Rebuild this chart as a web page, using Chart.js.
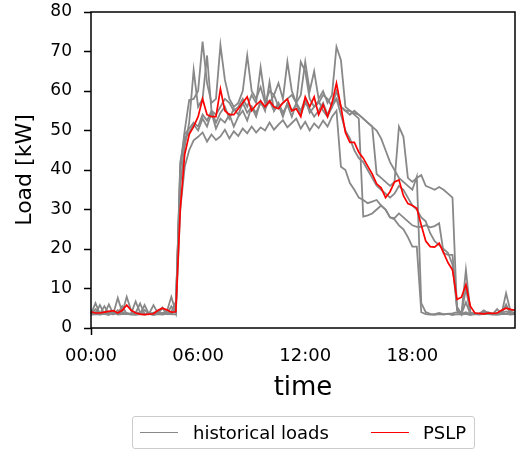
<!DOCTYPE html>
<html>
<head>
<meta charset="utf-8">
<script src="https://cdn.jsdelivr.net/npm/chart.js@4/dist/chart.umd.min.js"></script>
<style>
  body { margin: 0; background: #fff; }
  #wrap { position: relative; width: 516px; height: 450px; }
  #legend {
    position: absolute; left: 132px; top: 416px; width: 341px; height: 31px;
    border: 1.5px solid #cccccc; border-radius: 3px;
    font: 18px "DejaVu Sans"; color: #000;
  }
  #legend .swatch { position: absolute; top: 15px; width: 38px; height: 0; }
  #legend .txt { position: absolute; top: 0; line-height: 31px; }
</style>
</head>
<body>
<div id="wrap">
  <canvas id="load-chart" width="516" height="450"></canvas>
  <div id="legend">
    <span class="swatch" style="left:7px;border-top:1.5px solid #888888"></span>
    <span class="txt" style="left:60px">historical loads</span>
    <span class="swatch" style="left:238px;border-top:1.5px solid #ff0000"></span>
    <span class="txt" style="left:290px">PSLP</span>
  </div>
</div>
<script>
window.addEventListener("DOMContentLoaded", () => {

  // 15 minute slots over one day
  const slots = [];
  for (let i = 0; i < 96; i++) {
    const h = String(Math.floor(i / 4)).padStart(2, "0");
    const m = String((i % 4) * 15).padStart(2, "0");
    slots.push(h + ":" + m);
  }
  const tickLabels = ["00:00", "06:00", "12:00", "18:00"];

  // historical load days [kW]
  const load1 = [3.6, 6.3, 3.5, 3.8, 4.1, 3.6, 7.6, 4.0, 3.5, 3.7, 6.7, 3.9, 3.5, 3.6, 5.8, 3.7, 3.8, 4.2, 7.9, 4.0,
    41, 50, 57.7, 58, 60, 72.5, 62, 57, 58, 71.6, 62.8, 58, 56, 57, 60, 69, 60, 58, 61, 57,
    60, 59, 62, 58, 67.4, 60, 57, 59, 67.4, 60, 65, 58, 60, 57, 59, 71.2,
    67.8, 56, 55, 54.4, 54, 53, 52, 51, 50, 48, 45, 42, 40, 38, 37, 36, 35, 38.3,
    6.3, 4.0, 3.6, 3.5, 3.8, 3.5, 3.6, 3.7, 4.0, 3.6, 10, 3.8, 3.5, 3.6, 4.2, 3.8, 3.5, 3.7, 4.0, 5.5, 3.8, 3.6];
  const load2 = [4.5, 3.6, 5.8, 3.5, 3.9, 4.2, 3.6, 3.8, 7.9, 4.4, 3.7, 3.6, 5.8, 3.5, 3.9, 4.0, 5.2, 3.6, 4.1, 6.7,
    36, 46, 52, 65.3, 56, 58, 69, 55, 54, 56, 58, 57, 55, 56, 58, 56, 59, 57, 66, 58,
    57, 59, 56, 57, 58, 59, 57, 67.4, 65, 58, 56, 57, 59, 58, 56, 60,
    56, 55, 55, 54, 53, 28.2, 28.5, 29, 30, 31, 30, 28, 27.8, 29, 28, 27, 26, 25.6,
    25.6, 26, 25.5, 25.8, 26.5, 19, 18.5, 18.5, 5.4, 3.5, 14.7, 4.0, 3.5, 3.6, 3.9, 3.5, 3.6, 3.8, 3.7, 8.8, 4.2, 4.5];
  const load3 = [3.3, 3.5, 3.4, 3.6, 3.3, 4.2, 3.4, 3.5, 3.6, 3.4, 3.3, 3.5, 3.4, 3.6, 3.3, 3.5, 3.4, 3.6, 3.5, 3.4,
    30, 40.8, 45, 47.5, 48.4, 49.5, 47.2, 49, 47.6, 48.5, 50.2, 48, 49.8, 48.6, 50.5, 49.3, 51, 49.5, 50.8, 50,
    52, 50.2, 51.5, 52.6, 50.8, 51.9, 53, 50.5, 52.2, 50, 51.8, 50.6, 52.5, 51, 53.5, 55,
    40.8, 40, 36.7, 35, 33, 32.4, 31.6, 32, 32.4, 31, 30, 28, 27.5, 26, 25, 23, 20.6, 20.6,
    4.0, 3.5, 3.4, 3.3, 3.5, 3.4, 3.6, 3.3, 3.5, 3.4, 3.6, 3.3, 3.5, 3.4, 3.6, 3.5, 3.4, 3.3, 3.5, 3.6, 3.4, 3.5];
  const load4 = [3.8, 4.0, 3.6, 5.5, 3.7, 3.5, 4.5, 3.6, 3.8, 3.5, 4.0, 3.7, 4.6, 3.5, 3.8, 3.6, 5.0, 3.7, 3.5, 4.5,
    40, 49, 50.5, 52, 51, 54, 52.5, 55, 52, 54.5, 56, 53, 55.5, 54, 57, 54.5, 56, 53.5, 57.5, 55,
    62.3, 55, 57, 54.5, 56.5, 53.5, 57, 55, 58, 54.5, 56, 57.5, 55, 53.5, 56, 58,
    56, 55, 54, 55, 54, 53, 52, 51, 39, 38, 37, 36, 37, 51, 48.4, 38, 37, 38,
    38.7, 36, 35.5, 35, 35.7, 35, 34, 33, 4.5, 3.6, 6.5, 3.5, 3.7, 3.6, 4.5, 3.8, 3.5, 4.8, 3.6, 6.0, 3.5, 3.8];
  const load5 = [3.4, 4.8, 3.5, 3.6, 6.0, 3.5, 3.7, 5.5, 3.6, 3.5, 3.8, 6.2, 3.6, 3.5, 3.7, 3.6, 3.8, 3.5, 5.5, 3.7,
    42, 48, 49.5, 51.5, 50, 53, 51, 54.5, 50.5, 53, 52, 54, 51, 53.5, 55, 52.5, 56, 54.5, 57, 55.5,
    57.5, 55, 56.5, 53.5, 57, 55, 56.5, 54, 57, 55.5, 53.5, 55, 57, 54, 56.5, 58,
    54, 50, 48, 45, 43, 42, 40, 38, 36, 35, 34, 33, 34, 36, 35, 33, 31, 30,
    28, 27, 24, 22, 21, 20, 19, 16, 5.0, 3.6, 4.0, 3.5, 3.7, 3.6, 3.5, 4.0, 3.6, 3.5, 3.8, 4.2, 3.7, 3.9];

  // standard load profile
  const pslp = [4.1, 3.8, 3.8, 4.0, 4.2, 4.4, 3.8, 4.5, 5.8, 4.5, 3.8, 3.5, 3.4, 3.5, 3.6, 4.5, 5.0, 4.6, 4.0, 4.1,
    30, 44, 49, 51, 53.5, 58, 54, 53.5, 53.5, 60.5, 55, 54, 54, 55.5, 57, 58.5, 55, 56.5, 57.5, 56,
    57.5, 56, 55.5, 57, 58, 55, 55.5, 53.5, 58.5, 56, 58.5, 54, 56.5, 53.5, 57, 62,
    56, 49.5, 47, 47, 44.5, 43, 41, 39, 36.5, 35.5, 33, 34.5, 37, 37.5, 33.5, 31.5, 31, 30.3,
    26, 22, 20.6, 20.5, 21.5, 19, 16.5, 14.7, 7.2, 7.8, 11, 5.5, 3.8, 3.7, 3.6, 3.8, 3.7, 3.8, 4.5, 5, 4.7, 4.5];

  const history = [load1, load2, load3, load4, load5];

  Chart.defaults.font.family = "DejaVu Sans";
  Chart.defaults.color = "#000";

  // box round the plot area, like axes spines
  const frame = {
    id: "frame",
    afterDatasetsDraw(chart) {
      const { ctx, chartArea: a } = chart;
      ctx.save();
      ctx.strokeStyle = "#000";
      ctx.lineWidth = 1.5;
      ctx.strokeRect(a.left, a.top, a.right - a.left, a.bottom - a.top);
      ctx.restore();
    }
  };

  const datasets = history.map(d => ({
    label: "historical loads",
    data: d,
    borderColor: "#888888",
    borderWidth: 1.8,
    pointRadius: 0,
    order: 1
  }));
  datasets.push({
    label: "PSLP",
    data: pslp,
    borderColor: "#ff0000",
    borderWidth: 1.7,
    pointRadius: 0,
    order: 0
  });

  const ticksAt = ctx => (ctx.index % 24 === 0 ? "#000" : "rgba(0,0,0,0)");

  new Chart(document.getElementById("load-chart"), {
    type: "line",
    data: { labels: slots, datasets },
    plugins: [frame],
    options: {
      responsive: false,
      animation: false,
      elements: { line: { tension: 0 } },
      layout: { padding: { top: 12, right: 1, bottom: 46, left: 0 } },
      plugins: { legend: { display: false }, tooltip: { enabled: false } },
      scales: {
        x: {
          type: "category",
          border: { display: false },
          grid: { drawOnChartArea: false, tickLength: 7, tickWidth: 1.5, tickColor: ticksAt },
          ticks: {
            autoSkip: false,
            maxRotation: 0,
            padding: 11,
            font: { size: 18 },
            callback: (v, i) => (i % 24 === 0 ? tickLabels[i / 24] : null)
          },
          title: { display: true, text: "time", font: { size: 26 }, padding: { top: 0, bottom: 0 } },
          afterFit: s => { s.height = 76; s.paddingLeft = 0; s.paddingRight = 0; }
        },
        y: {
          min: 0,
          max: 80,
          border: { display: false },
          grid: { drawOnChartArea: false, tickLength: 7, tickWidth: 1.5, tickColor: "#000" },
          ticks: { stepSize: 10, padding: 12, font: { size: 17 } },
          title: { display: true, text: "Load [kW]", font: { size: 22 }, padding: { top: 12, bottom: 0 } },
          afterFit: s => { s.width = 91; s.paddingTop = 0; s.paddingBottom = 0; }
        }
      }
    }
  });

});
</script>
</body>
</html>
